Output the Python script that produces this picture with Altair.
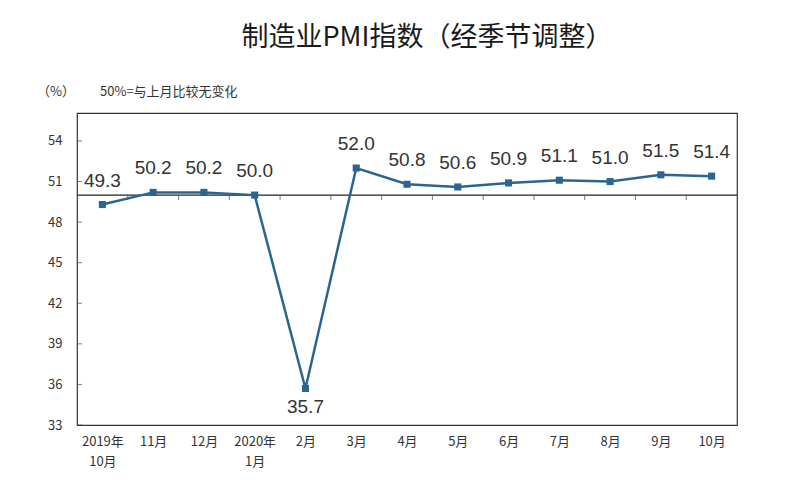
import altair as alt
import pandas as pd

# ---- data ----
months = ["2019年|10月", "11月", "12月", "2020年|1月", "2月", "3月", "4月",
          "5月", "6月", "7月", "8月", "9月", "10月"]
pmi = [49.3, 50.2, 50.2, 50.0, 35.7, 52.0, 50.8, 50.6, 50.9, 51.1, 51.0, 51.5, 51.4]
label_pos = ["above", "above", "above", "above", "below", "above", "above",
             "above", "above", "above", "above", "above", "above"]
y_ticks = [33, 36, 39, 42, 45, 48, 51, 54]
ref_value = [50]

n = len(months)
df = pd.DataFrame({"idx": list(range(n)), "month": months, "pmi": pmi, "pos": label_pos})
bounds_df = pd.DataFrame({"b": [i + 0.5 for i in range(n - 1)], "v": ref_value * (n - 1)})
yt_df = pd.DataFrame({"t": y_ticks})
ref_df = pd.DataFrame({"v": ref_value})

label_js = "[" + ",".join(
    "[" + ",".join("'" + p + "'" for p in m.split("|")) + "]" for m in months
) + "][datum.value]"

CJK = "Noto Sans CJK SC"
LINE = "#2A6590"

xscale = alt.Scale(domain=[-0.5, n - 0.5], nice=False, zero=False)
yscale = alt.Scale(domain=[33, 56.07], nice=False, zero=False)

xaxis = alt.Axis(values=list(range(n)), labelExpr=label_js, title=None, domain=False,
                 ticks=False, grid=False, labelPadding=10, labelFontSize=13,
                 labelFont=CJK, labelColor="#333333", labelLineHeight=20,
                 labelBaseline="top")
yaxis = alt.Axis(values=y_ticks, title=None, domain=False, ticks=False, grid=False,
                 labelPadding=15, labelFontSize=13, labelFont=CJK, labelColor="#333333")

base = alt.Chart(df)

line = base.mark_line(color=LINE, strokeWidth=2.5).encode(
    x=alt.X("idx:Q", scale=xscale, axis=xaxis),
    y=alt.Y("pmi:Q", scale=yscale, axis=yaxis),
)
pts = base.mark_square(color=LINE, size=50, opacity=1).encode(
    x=alt.X("idx:Q", scale=xscale), y=alt.Y("pmi:Q", scale=yscale)
)

rule = alt.Chart(ref_df).mark_rule(color="#222222", strokeWidth=1.2).encode(
    y=alt.Y("v:Q", scale=yscale)
)
btick = alt.Chart(bounds_df).mark_tick(orient="vertical", size=5, yOffset=2.5,
                                       color="#444444", thickness=1).encode(
    x=alt.X("b:Q", scale=xscale), y=alt.Y("v:Q", scale=yscale)
)
ytick = alt.Chart(yt_df).mark_tick(orient="horizontal", size=5, xOffset=2.5,
                                   color="#444444", thickness=1).encode(
    x=alt.datum(-0.5, scale=xscale), y=alt.Y("t:Q", scale=yscale)
)

txt_kw = dict(fontSize=19, font="Liberation Sans", color="#333333")
lab_above = base.transform_filter(alt.datum.pos == "above").mark_text(dy=-24, **txt_kw).encode(
    x=alt.X("idx:Q", scale=xscale), y=alt.Y("pmi:Q", scale=yscale),
    text=alt.Text("pmi:Q", format=".1f"))
lab_below = base.transform_filter(alt.datum.pos == "below").mark_text(dy=19, **txt_kw).encode(
    x=alt.X("idx:Q", scale=xscale), y=alt.Y("pmi:Q", scale=yscale),
    text=alt.Text("pmi:Q", format=".1f"))

unit_txt = alt.Chart(ref_df).mark_text(text="（%）", font=CJK, fontSize=13, align="left",
                                       color="#333333").encode(
    x=alt.value(-40), y=alt.value(-21))
note_txt = alt.Chart(ref_df).mark_text(text="50%=与上月比较无变化", font=CJK, fontSize=13,
                                       align="left", color="#333333").encode(
    x=alt.value(23), y=alt.value(-21))

chart = alt.layer(rule, btick, ytick, line, pts, lab_above, lab_below,
                  unit_txt, note_txt).properties(
    width=660, height=312,
    title=alt.Title("制造业PMI指数（经季节调整）", font=CJK, fontSize=27, fontWeight="normal",
                    color="#1a1a1a", anchor="middle", dx=20, offset=7, frame="group",
                    baseline="bottom"),
    autosize=alt.AutoSizeParams(type="none"),
    padding={"left": 69, "top": 105, "right": 55, "bottom": 70},
).configure_view(stroke="#333333", strokeWidth=1.2)

chart.save("out.html", embed_options={"renderer": "svg", "actions": False})
